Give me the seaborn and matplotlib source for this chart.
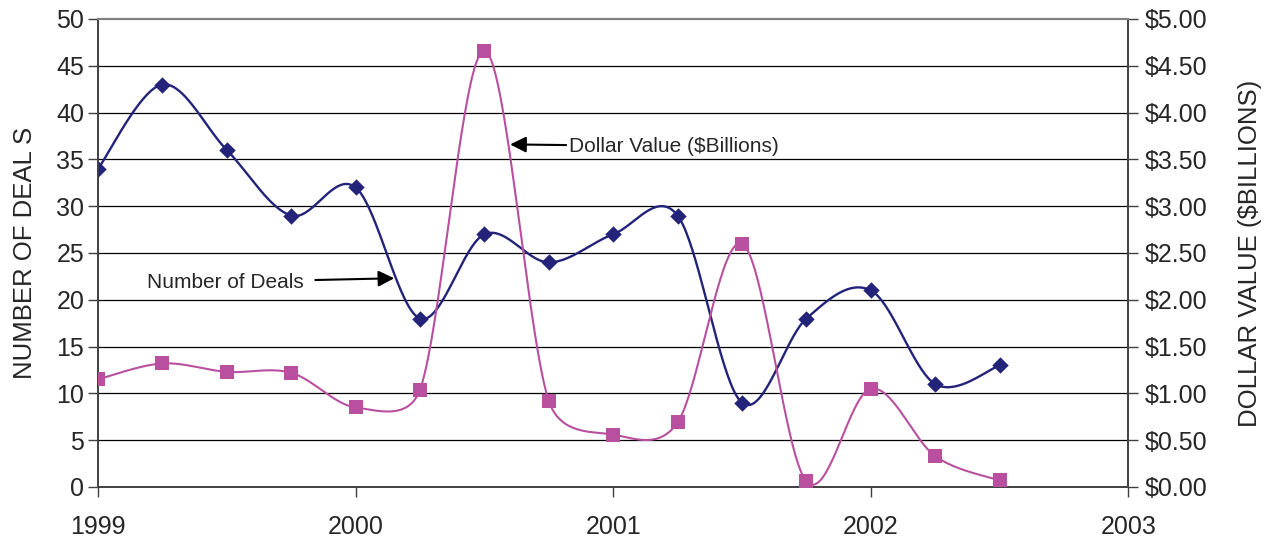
import numpy as np
import pandas as pd
import matplotlib
matplotlib.use('Agg')
import matplotlib.pyplot as plt
import seaborn as sns

# ==========================================
# DATA
# ==========================================
quarters = [1999.0, 1999.25, 1999.5, 1999.75,
            2000.0, 2000.25, 2000.5, 2000.75,
            2001.0, 2001.25, 2001.5, 2001.75,
            2002.0, 2002.25, 2002.5]
num_deals = [34, 43, 36, 29, 32, 18, 27, 24, 27, 29, 9, 18, 21, 11, 13]
dollar_value = [1.15, 1.32, 1.23, 1.22, 0.85, 1.04, 4.66, 0.92,
                0.56, 0.69, 2.60, 0.06, 1.05, 0.33, 0.07]
year_ticks = [1999, 2000, 2001, 2002, 2003]
deal_ticks = list(range(0, 55, 5))
dollar_ticks = [0, 0.5, 1.0, 1.5, 2.0, 2.5, 3.0, 3.5, 4.0, 4.5, 5.0]

NAVY = '#23237A'
MAGENTA = '#B9509F'


def smooth(a, x, y, n=40):
    # Excel-like smoothed line: Bezier segments built in screen space,
    # tangent length limited so short segments do not overshoot
    pts = a.transData.transform(np.column_stack([x, y]))
    P = np.vstack([pts[:1], pts, pts[-1:]])
    t = np.linspace(0, 1, n)[:, None]
    out = []
    for i in range(len(pts) - 1):
        p0, p1, p2, p3 = P[i], P[i + 1], P[i + 2], P[i + 3]
        d12 = np.hypot(*(p2 - p1))
        d02 = np.hypot(*(p2 - p0))
        d13 = np.hypot(*(p3 - p1))
        f1 = min(1 / 6, d12 / (2 * d02)) if d02 > 0 else 0
        f2 = min(1 / 6, d12 / (2 * d13)) if d13 > 0 else 0
        c1 = p1 + f1 * (p2 - p0)
        c2 = p2 - f2 * (p3 - p1)
        seg = (1 - t) ** 3 * p1 + 3 * (1 - t) ** 2 * t * c1 \
            + 3 * (1 - t) * t ** 2 * c2 + t ** 3 * p2
        out.append(seg)
    data = a.transData.inverted().transform(np.vstack(out))
    return pd.DataFrame({'x': data[:, 0], 'y': data[:, 1]})


df = pd.DataFrame({'quarter': quarters, 'deals': num_deals, 'value': dollar_value})

# ==========================================
# PLOT
# ==========================================
sns.set_style('white')
plt.rcParams['font.family'] = ['Liberation Sans', 'DejaVu Sans']

fig = plt.figure(figsize=(12.68, 5.38), dpi=100)
ax = fig.add_axes([0.0773, 0.0948, 0.8126, 0.8699])
ax2 = ax.twinx()

ax.set_xlim(1999, 2003)
ax.set_ylim(0, 50)
ax2.set_ylim(0, 5)

deals_curve = smooth(ax, quarters, num_deals)
value_curve = smooth(ax2, quarters, dollar_value)

# grid lines (left axis)
for v in deal_ticks[1:-1]:
    ax.axhline(v, color='black', lw=0.9, zorder=0)

sns.lineplot(data=deals_curve, x='x', y='y', ax=ax, color=NAVY, lw=1.7,
             sort=False, estimator=None, zorder=3)
sns.scatterplot(data=df, x='quarter', y='deals', ax=ax, color=NAVY, marker='D',
                s=70, edgecolor=NAVY, linewidth=0, zorder=4)

sns.lineplot(data=value_curve, x='x', y='y', ax=ax2, color=MAGENTA, lw=1.5,
             sort=False, estimator=None, zorder=3)
sns.scatterplot(data=df, x='quarter', y='value', ax=ax2, color=MAGENTA, marker='s',
                s=100, edgecolor=MAGENTA, linewidth=0, zorder=4)

ax.set_xlim(1999, 2003)
ax.set_ylim(0, 50)
ax2.set_ylim(0, 5)
ax.set_xticks(year_ticks)
ax.set_xticklabels([str(y) for y in year_ticks])
ax.set_yticks(deal_ticks)
ax2.set_yticks(dollar_ticks)
ax2.set_yticklabels(['${:.2f}'.format(v) for v in dollar_ticks])

ax.set_xlabel('')
ax.set_ylabel('NUMBER OF DEAL S', fontsize=18.5, labelpad=14)
ax2.set_ylabel('DOLLAR VALUE ($BILLIONS)', fontsize=18.5, labelpad=22)

ax.tick_params(axis='both', labelsize=18, direction='out', length=7, width=1,
               color='#404040', left=True, bottom=True)
ax.tick_params(axis='x', pad=13)
ax.tick_params(axis='y', pad=3)
ax2.tick_params(axis='y', labelsize=18, direction='out', length=7, width=1,
                color='#404040', right=True, pad=5)

for a in (ax, ax2):
    for side in ['left', 'right', 'bottom']:
        a.spines[side].set_color('#404040')
        a.spines[side].set_linewidth(1.2)
    a.spines['top'].set_color('#808080')
    a.spines['top'].set_linewidth(1.5)

ax.annotate('Number of Deals', xy=(2000.15, 22.3), xytext=(1999.19, 21.9),
            fontsize=15, va='center', ha='left',
            arrowprops=dict(arrowstyle='-|>', color='black', lw=1.5,
                            mutation_scale=24, shrinkA=6, shrinkB=0))
ax.annotate('Dollar Value ($Billions)', xy=(2000.60, 36.6), xytext=(2000.83, 36.4),
            fontsize=15, va='center', ha='left',
            arrowprops=dict(arrowstyle='-|>', color='black', lw=1.5,
                            mutation_scale=24, shrinkA=0, shrinkB=0))

fig.savefig('out.png', dpi=100)
